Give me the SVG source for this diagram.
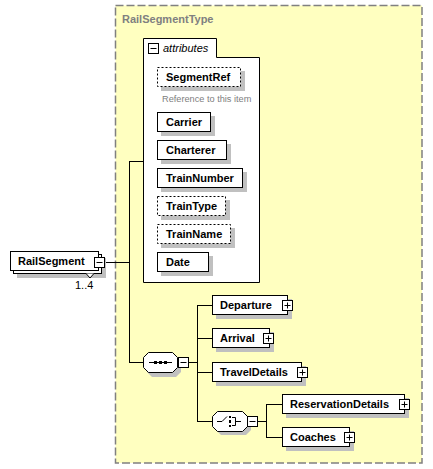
<svg xmlns="http://www.w3.org/2000/svg" width="433" height="469" viewBox="0 0 433 469">
<style>
.t{font-family:"Liberation Sans",Arial,sans-serif;font-size:11px;font-weight:bold;fill:#000}
.box{fill:#fff;stroke:#000;stroke-width:1}
.opt{fill:#fff;stroke:#000;stroke-width:1;stroke-dasharray:2,2}
.sh{fill:#c0c0c0}
.ln{stroke:#000;stroke-width:1;fill:none}
.ic{fill:#fff;stroke:#000;stroke-width:1}
</style>
<defs>
<g id="plus"><rect x="1" y="1" width="10" height="10" fill="#000"/><rect x="0.5" y="0.5" width="10" height="10" class="ic"/><path d="M2.5,5.5H8.5M5.5,2.5V8.5" class="ln"/></g>
<g id="minus"><rect x="1" y="1" width="10" height="10" fill="#000"/><rect x="0.5" y="0.5" width="10" height="10" class="ic"/><path d="M2.5,5.5H8.5" class="ln"/></g>
</defs>
<g id="RailSegmentType">
<rect x="115.5" y="5.5" width="306.5" height="457.5" fill="#ffffc0" stroke="#808080" stroke-width="1.5" stroke-dasharray="8,3"/>
<text x="122" y="23" class="t" style="fill:#808080">RailSegmentType</text>
</g>
<g id="connectors">
<path class="ln" d="M104,262.5H129.5M129.5,161V362M129,161.5H143M129,362.5H143M189,362.5H197.5M197.5,305V421M197,305.5H212M197,338.5H212M197,372.5H212M197,421.5H212M257,421.5H266.5M266.5,404V437M266,404.5H282M266,437.5H282"/>
</g>
<g id="attributes">
<path d="M143.5,282.5V38.5H216.5V57.5H259.5V282.5Z" class="box"/>
<use href="#minus" x="148" y="43"/>
<text x="163" y="52" style="font-family:'Liberation Sans',Arial,sans-serif;font-size:11px;font-style:italic">attributes</text>
</g>
<g id="SegmentRef">
<rect x="161" y="71" width="84" height="20" class="sh"/>
<rect x="157.5" y="67.5" width="83" height="19" class="opt"/>
<text x="166" y="81" class="t">SegmentRef</text>
<text x="162" y="102" style="font-family:'Liberation Sans',Arial,sans-serif;font-size:9.2px;fill:#808080">Reference to this item</text>
</g>
<g id="Carrier">
<rect x="161" y="116" width="54" height="20" class="sh"/>
<rect x="157.5" y="112.5" width="53" height="19" class="box"/>
<text x="166" y="126" class="t">Carrier</text>
</g>
<g id="Charterer">
<rect x="161" y="144" width="70" height="20" class="sh"/>
<rect x="157.5" y="140.5" width="69" height="19" class="box"/>
<text x="166" y="154" class="t">Charterer</text>
</g>
<g id="TrainNumber">
<rect x="161" y="172" width="86" height="20" class="sh"/>
<rect x="157.5" y="168.5" width="85" height="19" class="box"/>
<text x="166" y="182" class="t">TrainNumber</text>
</g>
<g id="TrainType">
<rect x="161" y="200" width="69" height="20" class="sh"/>
<rect x="157.5" y="196.5" width="68" height="19" class="opt"/>
<text x="166" y="210" class="t">TrainType</text>
</g>
<g id="TrainName">
<rect x="161" y="228" width="74" height="20" class="sh"/>
<rect x="157.5" y="224.5" width="73" height="19" class="opt"/>
<text x="166" y="238" class="t">TrainName</text>
</g>
<g id="Date">
<rect x="161" y="256" width="52" height="20" class="sh"/>
<rect x="157.5" y="252.5" width="51" height="19" class="box"/>
<text x="166" y="266" class="t">Date</text>
</g>
<g id="RailSegment">
<rect x="17" y="258" width="89" height="20" class="sh"/>
<rect x="13.5" y="254.5" width="88" height="19" class="box"/>
<rect x="10.5" y="251.5" width="88" height="19" class="box"/>
<path d="M86,273.5L90,278L94,273.5" fill="#fff" stroke="#000" stroke-width="1"/>
<text x="18" y="265" class="t">RailSegment</text>
<use href="#minus" x="94" y="257"/>
<text x="75" y="289" style="font-family:'Liberation Sans',Arial,sans-serif;font-size:11px">1..4</text>
</g>
<g id="sequence">
<path d="M152,356H176L181,361V372L176,377H152L147,372V361Z" class="sh"/>
<path d="M148.5,352.5H172.5L177.5,357.5V367.5L172.5,372.5H148.5L143.5,367.5V357.5Z" class="box"/>
<path d="M149,362.5H172" class="ln"/>
<rect x="154" y="361" width="3" height="3"/>
<rect x="159" y="361" width="3" height="3"/>
<rect x="164" y="361" width="3" height="3"/>
<use href="#minus" x="178" y="357"/>
</g>
<g id="Departure">
<rect x="216" y="299" width="76" height="20" class="sh"/>
<rect x="212.5" y="295.5" width="75" height="19" class="box"/>
<text x="220" y="309" class="t">Departure</text>
<use href="#plus" x="282" y="300"/>
</g>
<g id="Arrival">
<rect x="216" y="332" width="58" height="20" class="sh"/>
<rect x="212.5" y="328.5" width="57" height="19" class="box"/>
<text x="220" y="342" class="t">Arrival</text>
<use href="#plus" x="263" y="333"/>
</g>
<g id="TravelDetails">
<rect x="216" y="366" width="90" height="20" class="sh"/>
<rect x="212.5" y="362.5" width="89" height="19" class="box"/>
<text x="220" y="376" class="t">TravelDetails</text>
<use href="#plus" x="297" y="367"/>
</g>
<g id="choice">
<path d="M221,415H246L251,420V430L246,435H221L216,430V420Z" class="sh"/>
<path d="M217.5,411.5H242.5L247.5,416.5V426.5L242.5,431.5H217.5L212.5,426.5V416.5Z" class="box"/>
<path d="M217,421.5H222L227,416.5M232,417.5H235.5V425.5H232M235.5,421.5H241" class="ln"/>
<rect x="229" y="416" width="2" height="2"/>
<rect x="229" y="420" width="2" height="3"/>
<rect x="229" y="425" width="2" height="2"/>
<use href="#minus" x="247" y="416"/>
</g>
<g id="ReservationDetails">
<rect x="286" y="398" width="123" height="20" class="sh"/>
<rect x="282.5" y="394.5" width="122" height="19" class="box"/>
<text x="290" y="408" class="t">ReservationDetails</text>
<use href="#plus" x="399" y="399"/>
</g>
<g id="Coaches">
<rect x="286" y="431" width="68" height="20" class="sh"/>
<rect x="282.5" y="427.5" width="67" height="19" class="box"/>
<text x="290" y="441" class="t">Coaches</text>
<use href="#plus" x="344" y="432"/>
</g>
</svg>
